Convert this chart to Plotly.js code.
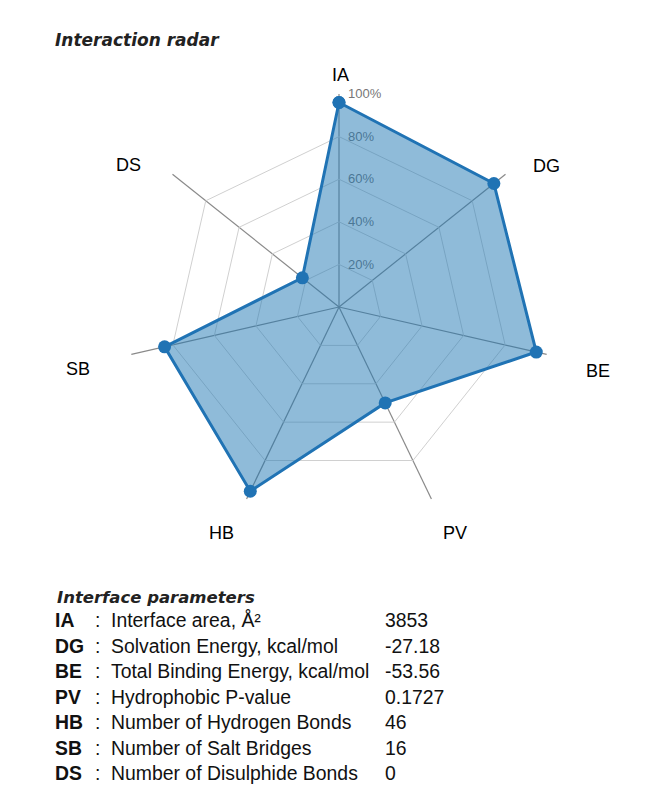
<!DOCTYPE html>
<html>
<head>
<meta charset="utf-8">
<script src="https://cdn.plot.ly/plotly-3.0.1.min.js"></script>
<style>
  body { margin: 0; background: #fff; }
  #radar { width: 650px; height: 785px; }
</style>
</head>
<body>
<div id="radar"></div>
<script>
// radar axes, clockwise from the top
var axisCodes = ["IA", "DG", "BE", "PV", "HB", "SB", "DS"];
// relative score of each parameter, in %
var scores = [96, 93, 95, 50, 96, 84, 22];
var radialTicks = [20, 40, 60, 80, 100];
var radialTickText = ["20%", "40%", "60%", "80%", "100%"];

// interface parameter table
var paramCodes = ["IA", "DG", "BE", "PV", "HB", "SB", "DS"];
var paramNames = [
  "Interface area, Å²",
  "Solvation Energy, kcal/mol",
  "Total Binding Energy, kcal/mol",
  "Hydrophobic P-value",
  "Number of Hydrogen Bonds",
  "Number of Salt Bridges",
  "Number of Disulphide Bonds"
];
var paramValues = ["3853", "-27.18", "-53.56", "0.1727", "46", "16", "0"];

var W = 650, H = 785;
var sans = "Liberation Sans, Arial, sans-serif";

var trace = {
  type: "scatterpolar",
  r: scores.concat([scores[0]]),
  theta: axisCodes.concat([axisCodes[0]]),
  mode: "lines+markers",
  fill: "toself",
  fillcolor: "rgba(31,119,180,0.5)",
  line: {color: "#2073b4", width: 3},
  marker: {color: "#2073b4", size: 13},
  hoverinfo: "skip"
};

function px(x, y) {
  return {xref: "paper", yref: "paper", x: x / W, y: 1 - y / H, showarrow: false};
}

var annotations = [];

// axis names round the radar (label centres)
var labelPos = [[340, 75], [546, 166], [598, 371], [455, 533], [222, 533], [78, 369], [128, 165]];
axisCodes.forEach(function(code, i) {
  var a = px(labelPos[i][0], labelPos[i][1]);
  a.xanchor = "center"; a.yanchor = "middle";
  a.text = code;
  a.font = {family: sans, size: 18, color: "#000"};
  annotations.push(a);
});

var head = px(55, 597);
head.xanchor = "left"; head.yanchor = "middle";
head.text = "<b><i>Interface parameters</i></b>";
head.font = {family: "DejaVu Sans", size: 16.5, color: "#222"};
annotations.push(head);

var rowY = [620, 646, 671, 697, 722, 748, 773];
var cols = [53, 93, 109, 383];
paramCodes.forEach(function(code, i) {
  var cells = ["<b>" + code + "</b>", ":", paramNames[i], paramValues[i]];
  cells.forEach(function(txt, c) {
    var a = px(cols[c], rowY[i]);
    a.xanchor = "left"; a.yanchor = "middle";
    a.text = txt;
    a.font = {family: sans, size: 19.4, color: "#111"};
    annotations.push(a);
  });
});

var layout = {
  width: W,
  height: H,
  margin: {l: 0, r: 0, t: 0, b: 0},
  paper_bgcolor: "#fff",
  showlegend: false,
  title: {
    text: "<b><i>Interaction radar</i></b>",
    x: 55 / W, xanchor: "left",
    y: 1 - 40 / H, yanchor: "middle",
    font: {family: "DejaVu Sans", size: 17, color: "#222"}
  },
  polar: {
    domain: {x: [126 / W, 552 / W], y: [1 - 520 / H, 1 - 94 / H]},
    gridshape: "linear",
    bgcolor: "rgba(0,0,0,0)",
    radialaxis: {
      range: [0, 100],
      angle: 90,
      tickvals: radialTicks,
      ticktext: radialTickText,
      tickangle: 90,
      showline: false,
      ticks: "outside",
      ticklen: 6,
      tickcolor: "rgba(0,0,0,0)",
      gridcolor: "#d0d0d0",
      gridwidth: 1,
      layer: "below traces",
      tickfont: {family: sans, size: 13, color: "#777"}
    },
    angularaxis: {
      rotation: 90,
      direction: "clockwise",
      showline: false,
      showticklabels: false,
      ticks: "",
      gridcolor: "#8a8a8a",
      gridwidth: 1.2,
      layer: "below traces"
    }
  },
  annotations: annotations
};

Plotly.newPlot("radar", [trace], layout, {displayModeBar: false, staticPlot: true});
</script>
</body>
</html>
